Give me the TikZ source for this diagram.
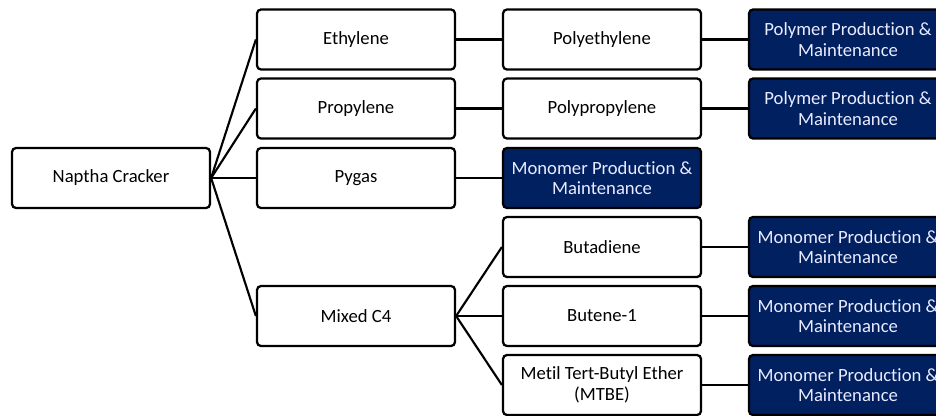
\documentclass[tikz,border=0pt]{standalone}
\usepackage{fontspec}
\setmainfont{Carlito}[Ligatures=NoCommon]
\usetikzlibrary{calc,positioning}
\definecolor{navyfill}{HTML}{002060}
\tikzset{
  chart schemes/.style = {
    x = 0.75pt, y = -0.75pt,
    line width = 1.7pt,
    % Ячейка
    pn/.style  = {
      draw, rounded corners=3pt,
      minimum width=148.5pt,
      minimum height=45pt,
      align=center, inner sep=1pt,
      font=\fontsize{14}{15.5}\selectfont
    },
    % Тёмные ячейки
    dpn/.style = { pn, fill=navyfill, text=white!92!blue },
    % Линии
    link/.style = {line width = 1.6pt},
  }
}

\begin{document}
\begin{tikzpicture}[chart schemes]
\def\block#1(#2)#3[#4] at (#5);{ \node[pn]  (#2) at (#5) {#4}; }
\def\dblock#1(#2)#3[#4] at (#5);{ \node[dpn] (#2) at (#5) {#4}; }
\useasboundingbox (0,0) rectangle (936,415);

%---------------------------------------------
\block (nc) [Naptha Cracker] at (111,178);

\block (eth) [Ethylene]  at (356, 39.5);
\block (pro) [Propylene] at (356,108.5);
\block (pyg) [Pygas]     at (356,178);
\block (c4)  [Mixed C4]  at (356,316);

\block  (pe)  [Polyethylene]   at (602, 39.5);
\block  (pp)  [Polypropylene]  at (602,108.5);
\dblock (pym) [Monomer Production \&\\Maintenance] at (602,178);
\block  (bd)  [Butadiene] at (602,247);
\block  (b1)  [Butene-1]  at (602,316);
\block  (mt)  [Metil Tert-Butyl Ether\\(MTBE)] at (602,385);

\dblock (pe_m) [Polymer Production \&\\Maintenance]  at (848, 39.5);
\dblock (pp_m) [Polymer Production \&\\Maintenance]  at (848,108.5);
\dblock (bd_m) [Monomer Production \&\\Maintenance] at (848,247);
\dblock (b1_m) [Monomer Production \&\\Maintenance] at (848,316);
\dblock (mt_m) [Monomer Production \&\\Maintenance] at (848,385);

%---------------------------------------------
\foreach \n in {eth,pro,pyg,c4}
  \draw[link] (nc.east) -- (\n.west);
\foreach \n in {bd,b1,mt}
  \draw[link] (c4.east) -- (\n.west);
\draw[link] (eth) -- (pe);  \draw[link] (pe) -- (pe_m);
\draw[link] (pro) -- (pp);  \draw[link] (pp) -- (pp_m);
\draw[link] (pyg) -- (pym);
\draw[link] (bd) -- (bd_m);
\draw[link] (b1) -- (b1_m);
\draw[link] (mt) -- (mt_m);
\end{tikzpicture}
\end{document}
